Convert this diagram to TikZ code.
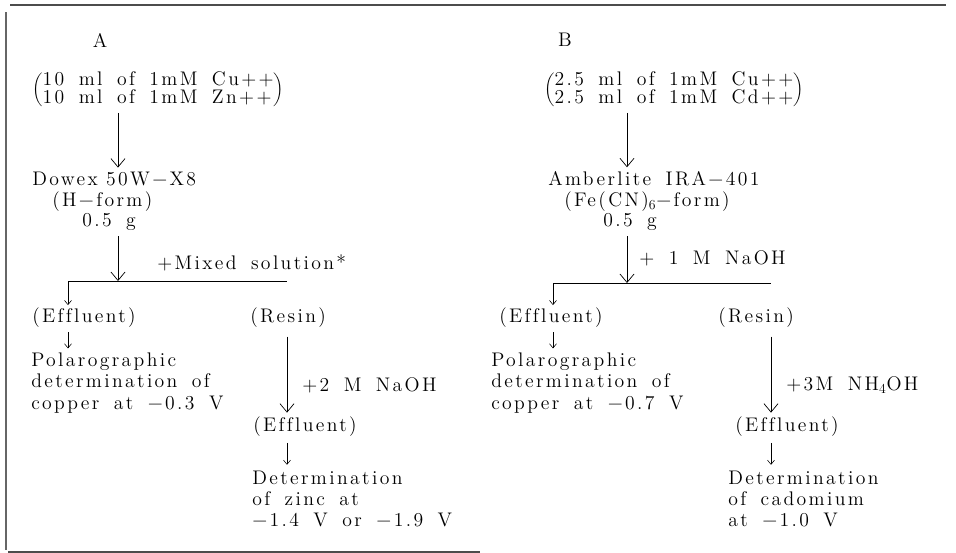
\documentclass[tikz,border=0pt]{standalone}
\usepackage{fontspec}
\setmainfont{lmroman12-regular.otf}[LetterSpace=12,WordSpace=1.65,Ligatures={TeX,CommonOff}]
\usetikzlibrary{arrows.meta,positioning,calc}
% two solutions held in one pair of brackets
\newcommand{\mixpair}[2]{$\left(\vcenter{\hbox{\renewcommand{\arraystretch}{0.72}%
  \begin{tabular}{@{}l@{}}#1\\#2\end{tabular}}}\right)$}

\begin{document}
\begin{tikzpicture}[x=0.025cm,y=-0.025cm,
    every node/.style={font=\fontsize{14}{15.2}\selectfont,inner sep=0pt}]
  \tikzset{arr/.style={-{Straight Barb[length=6pt,width=10pt]},line width=0.5pt},
    tiny/.style={-{Straight Barb[length=3pt,width=5pt]},line width=0.4pt},
    txt/.style={anchor=west,align=left}}
  \useasboundingbox (0,0) rectangle (956,553);
  % frame of the scan
  \draw[line width=0.8pt,black!70] (10,5) -- (946,5);
  \draw[line width=1pt,black!60] (6,12) -- (6,550);
  \draw[line width=0.8pt,black!70] (8,552) -- (480,552);
  % column A
  \node (labA) at (100,40) {A};
  \node[anchor=west] (mixA) at (32,90) {\mixpair{10 ml of 1mM Cu++}{10 ml of 1mM Zn++}};
  \node[anchor=west] (dowexA) at (32,179) {Dowex\hspace{6pt}50W\textminus X8};
  \node[anchor=west] (formA) at (52,202) {(H\textminus form)};
  \node[anchor=west] (massA) at (82,222) {0.5 g};
  \node[anchor=west] (addA) at (157,263) {+Mixed solution*};
  \coordinate (jA) at (118,281);
  \coordinate (lA) at (68,281);
  \coordinate (rA) at (287,281);
  \node[anchor=west] (effA) at (32,318) {(Effluent)};
  \node[anchor=west] (resA) at (250,318) {(Resin)};
  \node[txt] (polA) at (31,383) {Polarographic\\determination of\\copper at \textminus 0.3 V};
  \node[anchor=west] (addresA) at (302,385) {+2 M NaOH};
  \node[anchor=west] (eluA) at (253,427) {(Effluent)};
  \node[txt] (detA) at (252,499) {Determination\\of zinc at\\\textminus 1.4 V or \textminus 1.9 V};
  % column B
  \node (labB) at (565,40) {B};
  \node[anchor=west] (mixB) at (544,90) {\mixpair{2.5 ml of 1mM Cu++}{2.5 ml of 1mM Cd++}};
  \node[anchor=west] (dowexB) at (548,179) {Amberlite IRA\textminus 401};
  \node[anchor=west] (formB) at (564,202) {(Fe(CN)\textsubscript{6}\textminus form)};
  \node[anchor=west] (massB) at (603,222) {0.5 g};
  \node[anchor=west] (addB) at (639,258) {+ 1 M NaOH};
  \coordinate (jB) at (627,283);
  \coordinate (lB) at (553,283);
  \coordinate (rB) at (771,283);
  \node[anchor=west] (effB) at (499,318) {(Effluent)};
  \node[anchor=west] (resB) at (718,318) {(Resin)};
  \node[txt] (polB) at (491,383) {Polarographic\\determination of\\copper at \textminus 0.7 V};
  \node[anchor=west] (addresB) at (786,385) {+3M NH\textsubscript{4}OH};
  \node[anchor=west] (eluB) at (735,427) {(Effluent)};
  \node[txt] (detB) at (728,499) {Determination\\of cadomium\\at \textminus 1.0 V};
  % connectors
  \foreach \s in {A,B}{
    \draw[arr,shorten <=3pt,shorten >=3pt] (mix\s.south -| j\s) -- (dowex\s.north -| j\s);
    \draw[arr,shorten <=4pt] (mass\s.south -| j\s) -- (j\s);
    \draw (l\s) -- (r\s);
    \draw[tiny,shorten >=2pt] (l\s) -- (eff\s.north -| l\s);
    \draw[tiny,shorten <=3pt,shorten >=3pt] (eff\s.south -| l\s) -- (pol\s.north -| l\s);
    \draw[arr,shorten <=6pt,shorten >=3pt] (res\s.south -| r\s) -- (elu\s.north -| r\s);
    \draw[tiny,shorten <=4pt,shorten >=4pt] (elu\s.south -| r\s) -- (det\s.north -| r\s);
  }
\end{tikzpicture}
\end{document}
